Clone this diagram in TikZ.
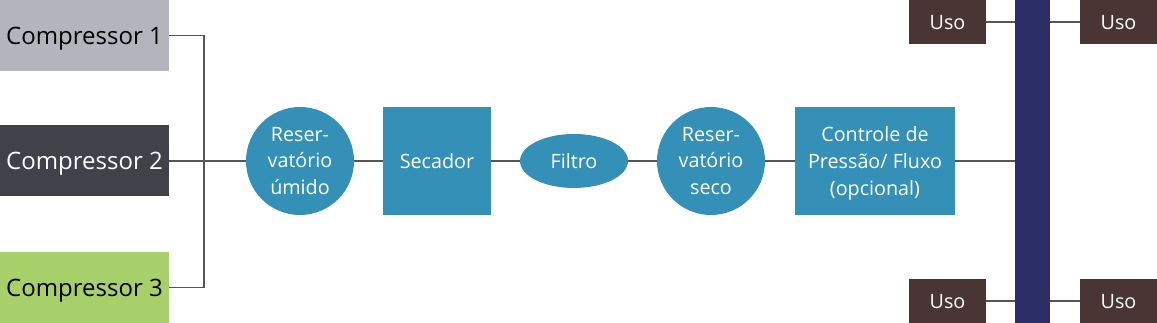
\documentclass[tikz,border=0pt]{standalone}
\usepackage{fontspec}
\setmainfont{Open Sans}
\usetikzlibrary{positioning,shapes.geometric}
\definecolor{arcomp1}{HTML}{B4B4BE}
\definecolor{arcomp2}{HTML}{41414A}
\definecolor{arcomp3}{HTML}{A8D06A}
\definecolor{arblue}{HTML}{3590B8}
\definecolor{arbar}{HTML}{2C2E67}
\definecolor{aruso}{HTML}{4A3535}
\definecolor{arline}{HTML}{555555}
\tikzset{
  ar/comp/.style={
    draw=none, minimum width=126.75pt, minimum height=53.25pt,
    inner sep=0pt, text depth=0pt, font=\fontsize{18}{21}\selectfont
  },
  ar/circ/.style={
    circle, fill=arblue, text=white, minimum size=81pt, inner sep=0pt,
    align=center, font=\fontsize{14.8}{20}\selectfont
  },
  ar/box/.style={
    fill=arblue, text=white, inner sep=0pt, align=center, text depth=0pt,
    font=\fontsize{14.8}{20}\selectfont
  },
  ar/uso/.style={
    fill=aruso, text=white, minimum width=57.75pt, minimum height=33pt,
    inner sep=0pt, text depth=0pt, font=\fontsize{14.8}{17}\selectfont
  },
  ar/ln/.style={arline, line width=1.1pt}
}
\begin{document}
\begin{tikzpicture}[x=0.75pt, y=-0.75pt]
  \useasboundingbox (0,0) rectangle (1157,323);

  % --- Compressores ---
  \node[ar/comp, fill=arcomp1] (comp1) at (84.5,35.5) {Compressor 1};
  \node[ar/comp, fill=arcomp2, text=white] (comp2) at (84.5,161) {Compressor 2};
  \node[ar/comp, fill=arcomp3] (comp3) at (84.5,287.5) {Compressor 3};
  \coordinate (junc) at (204,161);

  % --- Linha de tratamento ---
  \node[ar/circ] (resum) at (300,161) {Reser-\\vatório\\úmido};
  \node[ar/box, minimum width=81pt, minimum height=81pt] (sec) at (437,161) {Secador};
  \node[ellipse, fill=arblue, text=white, minimum width=81pt, minimum height=40.5pt,
    inner sep=0pt, text depth=0pt, font=\fontsize{14.8}{20}\selectfont] (filt) at (574,161) {Filtro};
  \node[ar/circ] (resseco) at (711,161) {Reser-\\vatório\\seco};
  \node[ar/box, minimum width=120pt, minimum height=81pt] (ctrl) at (875,161)
    {Controle de\\Pressão/ Fluxo\\(opcional)};

  % --- Distribuicao ---
  \node[fill=arbar, minimum width=26.25pt, minimum height=242.25pt, inner sep=0pt]
    (bar) at (1032.5,161.5) {};
  \node[ar/uso] (uso1) at (947.5,22) {Uso};
  \node[ar/uso] (uso2) at (1118.5,22) {Uso};
  \node[ar/uso] (uso3) at (947.5,301) {Uso};
  \node[ar/uso] (uso4) at (1118.5,301) {Uso};

  \draw[ar/ln] (comp1.east) -| (junc) |- (comp3.east);
  \draw[ar/ln] (comp2.east) -- (resum.west);
  \draw[ar/ln] (resum.east) -- (sec.west);
  \draw[ar/ln] (sec.east) -- (filt.west);
  \draw[ar/ln] (filt.east) -- (resseco.west);
  \draw[ar/ln] (resseco.east) -- (ctrl.west);
  \draw[ar/ln] (ctrl.east) -- (ctrl.east -| bar.west);
  \draw[ar/ln] (uso1.east) -- (uso1.east -| bar.west);
  \draw[ar/ln] (uso3.east) -- (uso3.east -| bar.west);
  \draw[ar/ln] (uso2.west) -- (uso2.west -| bar.east);
  \draw[ar/ln] (uso4.west) -- (uso4.west -| bar.east);
\end{tikzpicture}
\end{document}
